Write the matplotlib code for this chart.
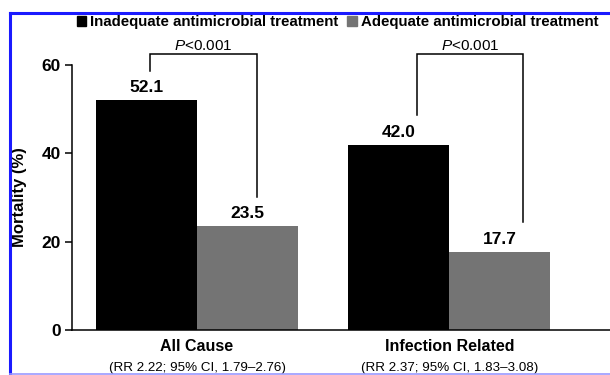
import matplotlib
matplotlib.use("Agg")
import matplotlib.pyplot as plt
from matplotlib.lines import Line2D
from matplotlib.patches import Rectangle

plt.rcParams['font.family'] = ['Liberation Sans', 'DejaVu Sans']
plt.rcParams['mathtext.fontset'] = 'custom'
plt.rcParams['mathtext.it'] = 'Liberation Sans:italic'
plt.rcParams['mathtext.rm'] = 'Liberation Sans'

categories = ["All Cause", "Infection Related"]
subtitles = ["(RR 2.22; 95% CI, 1.79\u20132.76)", "(RR 2.37; 95% CI, 1.83\u20133.08)"]
series_names = ["Inadequate antimicrobial treatment", "Adequate antimicrobial treatment"]
inadequate = [52.1, 42.0]
adequate = [23.5, 17.7]
p_labels = ["$\\it{P}$<0.001", "$\\it{P}$<0.001"]
yticks = [0, 20, 40, 60]

W, H = 610, 375
fig = plt.figure(figsize=(W / 100, H / 100), dpi=100)

def fx(px):
    return px / W

def fy(py):
    return 1 - py / H

ax = fig.add_axes([fx(72), fy(330), fx(610) - fx(72), fy(65) - fy(330)])

black = "#000000"
gray = "#747474"
groups = [0.0, 2.5]
bw = 1.0
ax.bar([g - bw / 2 for g in groups], inadequate, width=bw, color=black, linewidth=0)
ax.bar([g + bw / 2 for g in groups], adequate, width=bw, color=gray, linewidth=0)

ax.set_xlim(-1.238, 4.09)
ax.set_ylim(0, 60)
ax.set_yticks(yticks)
ax.set_yticklabels([str(t) for t in yticks], fontsize=12.5, fontweight='bold')
ax.set_xticks([])
ax.tick_params(axis='y', direction='out', length=5, width=1.1, pad=3)
for s in ['top', 'right']:
    ax.spines[s].set_visible(False)
for s in ['left', 'bottom']:
    ax.spines[s].set_linewidth(1.1)
ax.set_ylabel("Mortality (%)", fontsize=12, fontweight='bold')
ax.yaxis.set_label_coords(-0.083, 0.5)

# value labels
for g, a, b in zip(groups, inadequate, adequate):
    ax.text(g - bw / 2, a + 1.0, f"{a:.1f}", ha='center', va='bottom',
            fontsize=12.5, fontweight='bold', clip_on=False)
    ax.text(g + bw / 2, b + 1.1, f"{b:.1f}", ha='center', va='bottom',
            fontsize=12.5, fontweight='bold', clip_on=False)

# significance brackets
offsets = [(0.035, 0.094), (0.18, 0.23)]
for g, a, b, (o1, o2), pl in zip(groups, inadequate, adequate, offsets, p_labels):
    x1 = g - bw / 2 + o1
    x2 = g + bw / 2 + o2
    top = 62.4
    ax.plot([x1, x1, x2, x2], [a + 6.6, top, top, b + 6.7], color='black',
            lw=1.1, clip_on=False, solid_joinstyle='miter')
    ax.text((x1 + x2) / 2, top + 0.3, pl, ha='center', va='bottom', fontsize=11,
            clip_on=False)

# category labels
for g, c, s in zip(groups, categories, subtitles):
    ax.text(g, -3.7, c, ha='center', va='center', fontsize=11.5, fontweight='bold',
            clip_on=False)
    ax.text(g, -9.85, s, ha='center', va='bottom', fontsize=9.6, clip_on=False)

# legend
handles = [Rectangle((0, 0), 1, 1, color=black), Rectangle((0, 0), 1, 1, color=gray)]
fig.legend(handles, series_names, loc='center left', bbox_to_anchor=(fx(69), fy(22)),
           ncol=2, frameon=False, handlelength=0.65, handleheight=0.65,
           handletextpad=0.25, columnspacing=0.6, borderpad=0,
           prop={'size': 10.8, 'weight': 'bold'})

# border lines
fig.add_artist(Line2D([fx(10), fx(610)], [fy(13), fy(13)], color='#1a1aff', lw=2.2))
fig.add_artist(Line2D([fx(10), fx(10)], [fy(13), fy(373)], color='#1a1aff', lw=2.2))
fig.add_artist(Line2D([fx(10), fx(610)], [fy(373.5), fy(373.5)], color='#9999ff', lw=1.2))

fig.savefig("out.png", dpi=100)
